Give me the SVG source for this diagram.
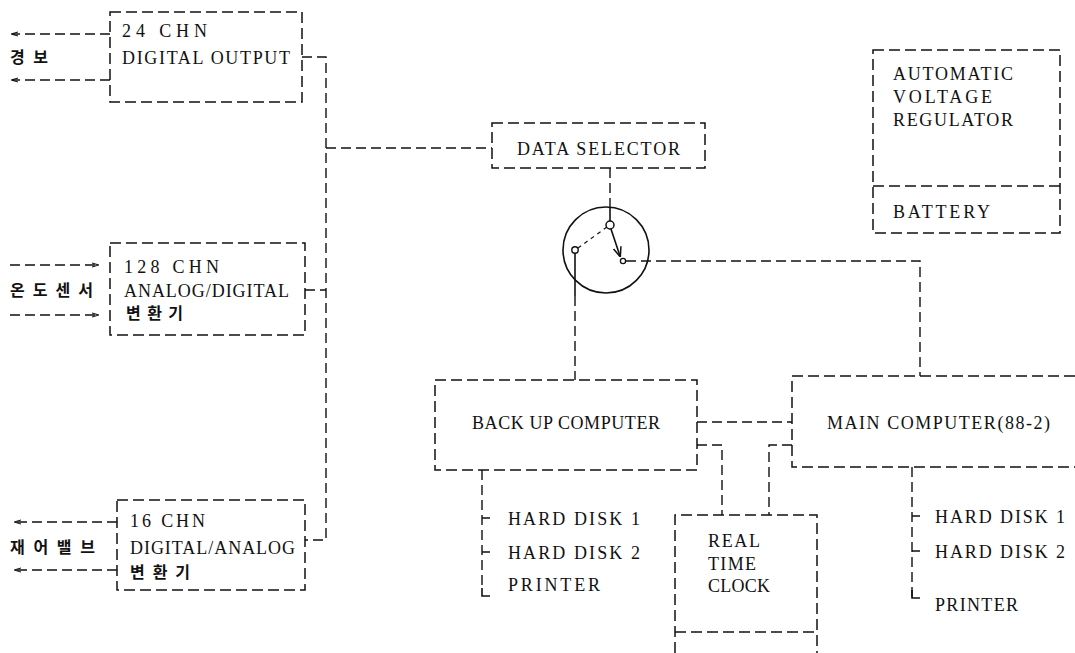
<svg xmlns="http://www.w3.org/2000/svg" width="1075" height="653" viewBox="0 0 1075 653">
<defs>
<marker id="ah" viewBox="0 0 10 10" refX="9" refY="5" markerWidth="7" markerHeight="7" orient="auto-start-reverse" markerUnits="userSpaceOnUse">
<path d="M0,2 L10,5 L0,8" fill="none" stroke="#111" stroke-width="1.5"/>
</marker>
<marker id="ah2" viewBox="0 0 10 10" refX="9" refY="5" markerWidth="10" markerHeight="10" orient="auto" markerUnits="userSpaceOnUse">
<path d="M0,1 L10,5 L0,9" fill="none" stroke="#111" stroke-width="1.5"/>
</marker>
</defs>
<style>
.box{fill:none;stroke:#111;stroke-width:1.5;stroke-dasharray:11 5}
.ln{fill:none;stroke:#111;stroke-width:1.4;stroke-dasharray:10 5}
.sol{fill:none;stroke:#111;stroke-width:1.6}
.t{font-family:"Liberation Serif","Times New Roman",serif;font-size:18px;fill:#111}
.k{font-family:"Noto Sans CJK KR","Noto Sans",sans-serif;font-size:16px;font-weight:bold;fill:#111}
</style>
<rect width="1075" height="653" fill="#fff"/>

<g id="digital-output">
<rect class="box" x="110" y="12" width="192" height="90"/>
<text class="t" x="122" y="37" textLength="85" lengthAdjust="spacing">24 CHN</text>
<text class="t" x="122" y="64" textLength="168" lengthAdjust="spacing">DIGITAL OUTPUT</text>
</g>
<g id="alarm">
<text class="k" x="10" y="63" textLength="38" lengthAdjust="spacing">경 보</text>
</g>

<g id="ad-converter">
<rect class="box" x="110" y="243" width="195" height="92"/>
<text class="t" x="124" y="273" textLength="95" lengthAdjust="spacing">128 CHN</text>
<text class="t" x="124" y="297" textLength="165" lengthAdjust="spacing">ANALOG/DIGITAL</text>
<text class="k" x="126" y="319" textLength="57" lengthAdjust="spacing">변환기</text>
</g>
<g id="temp-sensor">
<text class="k" x="10" y="296" textLength="83" lengthAdjust="spacing">온도센서</text>
</g>

<g id="da-converter">
<rect class="box" x="117" y="500" width="188" height="90"/>
<text class="t" x="130" y="527" textLength="75" lengthAdjust="spacing">16 CHN</text>
<text class="t" x="130" y="554" textLength="165" lengthAdjust="spacing">DIGITAL/ANALOG</text>
<text class="k" x="130" y="578" textLength="60" lengthAdjust="spacing">변환기</text>
</g>
<g id="control-valve">
<text class="k" x="10" y="553" textLength="85" lengthAdjust="spacing">재어밸브</text>
</g>

<g id="data-selector">
<rect class="box" x="492" y="123" width="213" height="45"/>
<text class="t" x="517" y="155" textLength="163" lengthAdjust="spacing">DATA SELECTOR</text>
</g>

<g id="switch">
<circle class="sol" cx="606" cy="250" r="43"/>
<circle cx="610" cy="225" r="4" fill="#fff" stroke="#111" stroke-width="1.5"/>
<circle cx="575" cy="250" r="3.2" fill="#fff" stroke="#111" stroke-width="1.4"/>
<circle cx="623" cy="261" r="2.6" fill="#fff" stroke="#111" stroke-width="1.3"/>
<line x1="607" y1="227" x2="578" y2="248" stroke="#111" stroke-width="1.2" stroke-dasharray="4 4"/>
<line class="sol" x1="611" y1="229" x2="620" y2="256" marker-end="url(#ah2)"/>
<line class="sol" x1="575" y1="253" x2="575" y2="296"/>
<line class="sol" x1="610" y1="208" x2="610" y2="221"/>
</g>

<g id="avr">
<rect class="box" x="873" y="50" width="187" height="183"/>
<line class="box" x1="873" y1="186" x2="1060" y2="186"/>
<text class="t" x="893" y="80" textLength="120" lengthAdjust="spacing">AUTOMATIC</text>
<text class="t" x="893" y="103" textLength="99" lengthAdjust="spacing">VOLTAGE</text>
<text class="t" x="893" y="126" textLength="120" lengthAdjust="spacing">REGULATOR</text>
<text class="t" x="893" y="218" textLength="97" lengthAdjust="spacing">BATTERY</text>
</g>

<g id="backup-computer">
<rect class="box" x="435" y="380" width="262" height="90"/>
<text class="t" x="472" y="429" textLength="188" lengthAdjust="spacing">BACK UP COMPUTER</text>
</g>
<g id="backup-peripherals">
<text class="t" x="508" y="525" textLength="132" lengthAdjust="spacing">HARD DISK 1</text>
<text class="t" x="508" y="559" textLength="132" lengthAdjust="spacing">HARD DISK 2</text>
<text class="t" x="508" y="591" textLength="92" lengthAdjust="spacing">PRINTER</text>
</g>

<g id="main-computer">
<path class="box" d="M1075 376 H792 V467 H1075"/>
<text class="t" x="827" y="429" textLength="223" lengthAdjust="spacing">MAIN COMPUTER(88-2)</text>
</g>
<g id="main-peripherals">
<text class="t" x="935" y="523" textLength="130" lengthAdjust="spacing">HARD DISK 1</text>
<text class="t" x="935" y="558" textLength="130" lengthAdjust="spacing">HARD DISK 2</text>
<text class="t" x="935" y="611" textLength="83" lengthAdjust="spacing">PRINTER</text>
</g>

<g id="real-time-clock">
<path class="box" d="M675 653 V515 H817 V653"/>
<line class="box" x1="675" y1="632" x2="817" y2="632"/>
<text class="t" x="708" y="547" textLength="52" lengthAdjust="spacing">REAL</text>
<text class="t" x="708" y="570" textLength="48" lengthAdjust="spacing">TIME</text>
<text class="t" x="708" y="592" textLength="62" lengthAdjust="spacing">CLOCK</text>
</g>

<g id="connectors">
<line class="ln" x1="110" y1="34" x2="12" y2="34" marker-end="url(#ah)"/>
<line class="ln" x1="110" y1="80" x2="12" y2="80" marker-end="url(#ah)"/>
<line class="ln" x1="10" y1="265" x2="98" y2="265" marker-end="url(#ah)"/>
<line class="ln" x1="10" y1="315" x2="98" y2="315" marker-end="url(#ah)"/>
<line class="ln" x1="117" y1="522" x2="15" y2="522" marker-end="url(#ah)"/>
<line class="ln" x1="117" y1="570" x2="15" y2="570" marker-end="url(#ah)"/>
<path class="ln" d="M302 57 H326 V540 H305"/>
<path class="ln" d="M305 290 H326"/>
<path class="ln" d="M326 148 H492"/>
<path class="ln" d="M610 168 V208"/>
<path class="ln" d="M575 296 V380"/>
<path class="ln" d="M626 261 H920 V376"/>
<path class="ln" d="M697 422 H792"/>
<path class="ln" d="M697 445 H722 V515"/>
<path class="ln" d="M792 445 H769 V515"/>
<path class="ln" d="M482 470 V590"/>
<path class="sol" d="M482 588 V596 H490"/>
<path class="sol" d="M482 518 H490 M482 552 H490"/>
<path class="ln" d="M912 467 V597"/>
<path class="sol" d="M912 590 V598 H920"/>
<path class="sol" d="M912 516 H920 M912 551 H920"/>
</g>
</svg>
